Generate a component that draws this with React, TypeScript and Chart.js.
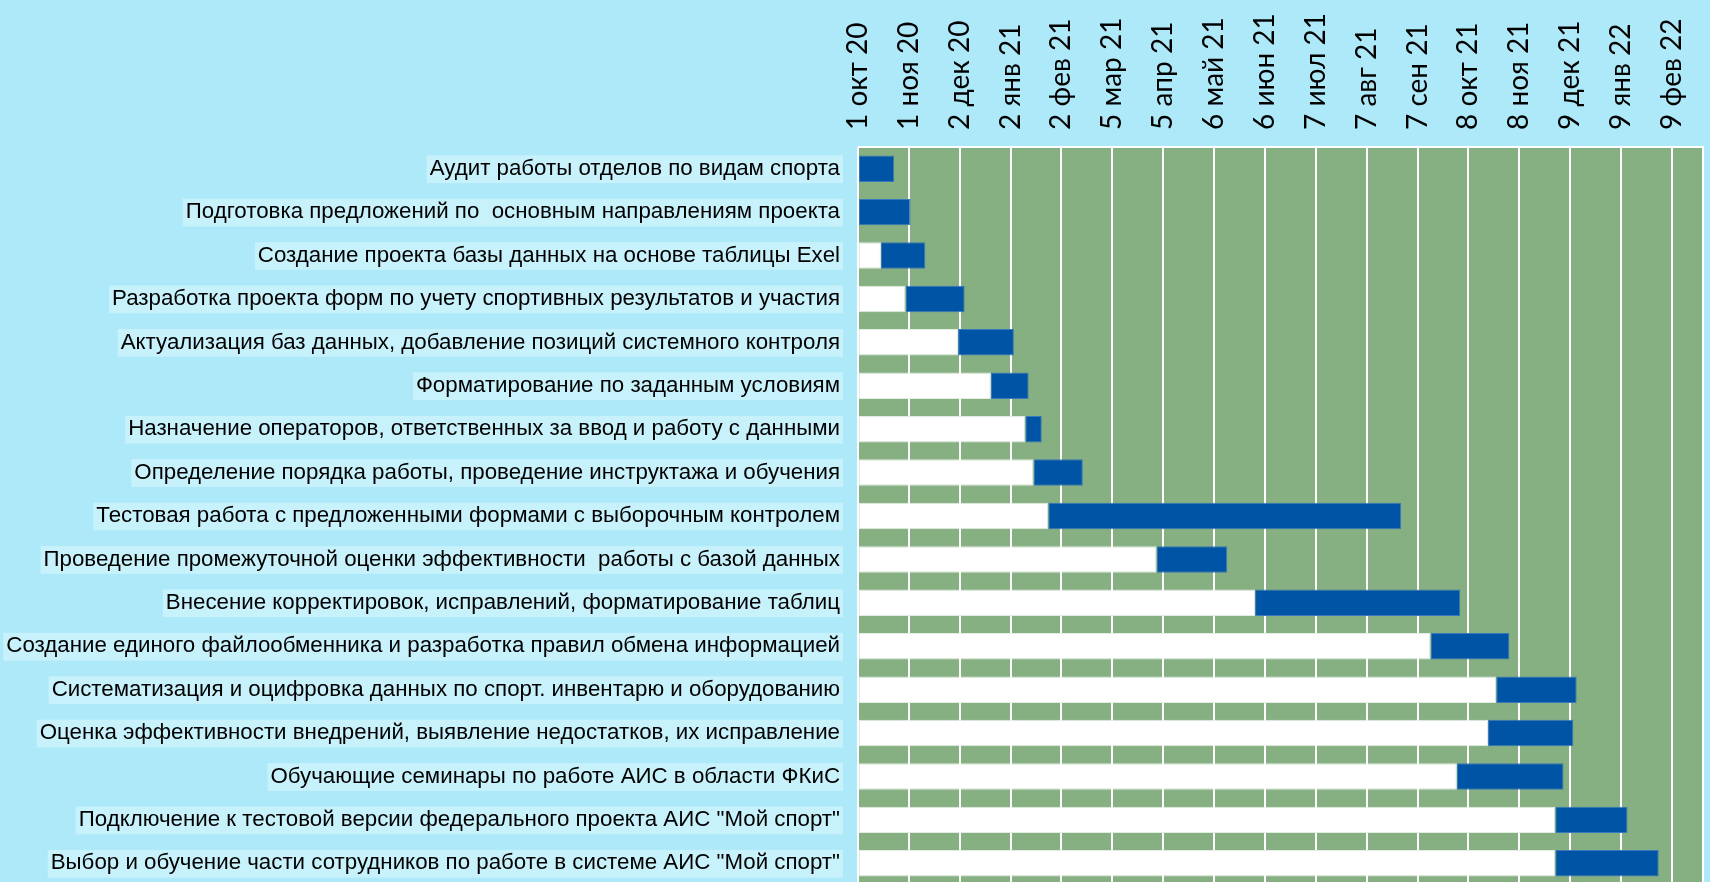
import React, { useEffect, useRef } from "react";
import { Chart, registerables } from "chart.js";

Chart.register(...registerables);

const tasks = [
  "Аудит работы отделов по видам спорта",
  "Подготовка предложений по  основным направлениям проекта",
  "Создание проекта базы данных на основе таблицы Exel",
  "Разработка проекта форм по учету спортивных результатов и участия",
  "Актуализация баз данных, добавление позиций системного контроля",
  "Форматирование по заданным условиям",
  "Назначение операторов, ответственных за ввод и работу с данными",
  "Определение порядка работы, проведение инструктажа и обучения",
  "Тестовая работа с предложенными формами с выборочным контролем",
  "Проведение промежуточной оценки эффективности  работы с базой данных",
  "Внесение корректировок, исправлений, форматирование таблиц",
  "Создание единого файлообменника и разработка правил обмена информацией",
  "Систематизация и оцифровка данных по спорт. инвентарю и оборудованию",
  "Оценка эффективности внедрений, выявление недостатков, их исправление",
  "Обучающие семинары по работе АИС в области ФКиС",
  "Подключение к тестовой версии федерального проекта АИС \"Мой спорт\"",
  "Выбор и обучение части сотрудников по работе в системе АИС \"Мой спорт\"",
];

// days since 1 Oct 2020
const startDays = [0, 0, 14, 29, 61, 81, 102, 107, 116, 182, 242, 349, 389, 384, 365, 425, 425];
const durationDays = [22, 32, 27, 36, 34, 23, 10, 30, 215, 43, 125, 48, 49, 52, 65, 44, 63];

const tickLabels = [
  "1 окт 20", "1 ноя 20", "2 дек 20", "2 янв 21", "2 фев 21", "5 мар 21",
  "5 апр 21", "6 май 21", "6 июн 21", "7 июл 21", "7 авг 21", "7 сен 21",
  "8 окт 21", "8 ноя 21", "9 дек 21", "9 янв 22", "9 фев 22",
];
const tickStepDays = 31;
const axisMinDays = 0;
const axisMaxDays = 515;

const PAGE_BG = "#AEE9F9";
const PLOT_BG = "#86AF82";
const BAR_BLUE = "#0054A6";
const LABEL_BG = "#C7F1FB";
const X_FONT_SIZE = 28;

const plotBgPlugin = {
  id: "plotBg",
  beforeDraw(chart: any) {
    const { ctx, chartArea } = chart;
    ctx.save();
    ctx.fillStyle = PLOT_BG;
    ctx.fillRect(chartArea.left, chartArea.top, chartArea.right - chartArea.left, chartArea.bottom - chartArea.top);
    ctx.restore();
  },
  afterDraw(chart: any) {
    const { ctx, chartArea } = chart;
    ctx.save();
    ctx.strokeStyle = "#FFFFFF";
    ctx.lineWidth = 2;
    ctx.beginPath();
    ctx.moveTo(chartArea.left, chartArea.top);
    ctx.lineTo(chartArea.right, chartArea.top);
    ctx.lineTo(chartArea.right, chartArea.bottom);
    ctx.stroke();
    ctx.restore();
  },
};

export default function App() {
  const ref = useRef<HTMLCanvasElement | null>(null);
  useEffect(() => {
    document.body.style.margin = "0";
    document.body.style.background = PAGE_BG;
    const chart = new Chart(ref.current as HTMLCanvasElement, {
      type: "bar",
      data: {
        labels: tasks,
        datasets: [
          {
            label: "start",
            data: startDays,
            backgroundColor: "#FFFFFF",
            borderColor: "#E3ECE3",
            borderWidth: 1,
            borderSkipped: false,
            categoryPercentage: 0.61,
            barPercentage: 1,
          },
          {
            label: "duration",
            data: durationDays,
            backgroundColor: BAR_BLUE,
            borderColor: "#3A78BD",
            borderWidth: 1,
            borderSkipped: false,
            categoryPercentage: 0.61,
            barPercentage: 1,
          },
        ],
      },
      options: {
        indexAxis: "y",
        animation: false,
        responsive: false,
        maintainAspectRatio: false,
        layout: { padding: { left: 0, right: 7, top: 0, bottom: 3 } },
        plugins: { legend: { display: false }, tooltip: { enabled: false } },
        scales: {
          x: {
            type: "linear",
            position: "top",
            stacked: true,
            min: axisMinDays,
            max: axisMaxDays,
            afterBuildTicks: (scale: any) => {
              scale.ticks = tickLabels.map((_, i) => ({ value: axisMinDays + i * tickStepDays }));
            },
            afterFit: (scale: any) => {
              scale.height = 147;
              scale.paddingLeft = 0;
              scale.paddingRight = 0;
            },
            grid: { color: "#FFFFFF", lineWidth: 2, drawTicks: false },
            border: { display: false },
            ticks: {
              autoSkip: false,
              minRotation: 90,
              maxRotation: 90,
              padding: 17,
              labelOffset: X_FONT_SIZE * 1.2,
              color: "#000000",
              font: { family: "Lato", size: X_FONT_SIZE },
              callback: (v: any) => tickLabels[Math.round((Number(v) - axisMinDays) / tickStepDays)] ?? "",
            },
          },
          y: {
            stacked: true,
            afterFit: (scale: any) => {
              scale.width = 858;
              scale.paddingTop = 0;
              scale.paddingBottom = 0;
            },
            grid: { display: false, drawTicks: false },
            border: { display: false },
            ticks: {
              autoSkip: false,
              padding: 18,
              color: "#000000",
              font: { family: "'Liberation Sans', Arial", size: 22.3 },
              showLabelBackdrop: true,
              backdropColor: LABEL_BG,
              backdropPadding: { left: 3, right: 3, top: 0, bottom: 1 },
            },
          },
        },
      },
      plugins: [plotBgPlugin],
    } as any);
    return () => chart.destroy();
  }, []);
  return (
    <div style={{ position: "fixed", left: 0, top: 0, width: 1710, height: 882, overflow: "hidden", background: PAGE_BG }}>
      <canvas ref={ref} width={1710} height={888} style={{ display: "block", width: 1710, height: 888 }} />
    </div>
  );
}
